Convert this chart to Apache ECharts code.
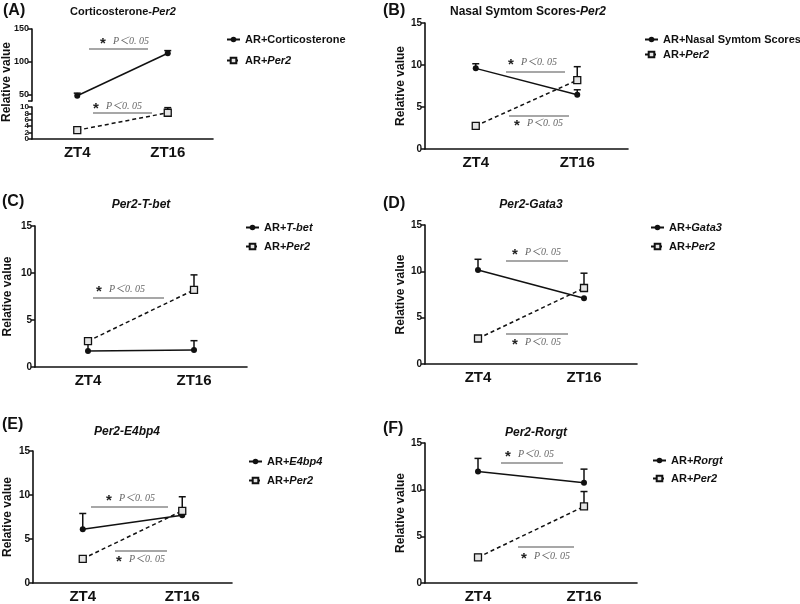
<!DOCTYPE html>
<html>
<head>
<meta charset="utf-8">
<script src="https://cdn.jsdelivr.net/npm/echarts@6/dist/echarts.min.js"></script>
<style>html,body{margin:0;background:#fff}#chart{width:800px;height:604px}</style>
</head>
<body>
<div id="chart"></div>
<script>
// ---- data ----
var times = ['ZT4', 'ZT16'];

var per2 = [2.75, 8.2];
var per2Err = [3.05, 9.8];

var corti = [48, 113];
var cortiErr = [52, 117];

var nasal = [9.6, 6.45];
var nasalErr = [10.15, 7.05];

var tbet = [1.7, 1.8];
var tbetErr = [2.7, 2.8];

var gata3 = [10.15, 7.1];
var gata3Err = [11.3, null];

var e4bp4 = [6.1, 7.7];
var e4bp4Err = [7.9, null];

var rorgt = [11.95, 10.75];
var rorgtErr = [13.35, 12.2];

var yTicksA = [50, 100, 150];
var yTicksALow = [0, 2, 4, 6, 8, 10];

var F = 'Liberation Sans, Arial, sans-serif';
var INK = '#111';

var grids = [], xAxes = [], yAxes = [], series = [], legends = [], graphics = [];

function addGrid(box, yCfg, showX) {
  var i = grids.length;
  grids.push({ left: box[0], top: box[1], width: box[2], height: box[3], containLabel: false, outerBoundsMode: 'none' });
  xAxes.push({
    type: 'category', gridIndex: i, data: times, show: showX !== false, boundaryGap: true,
    axisLine: { lineStyle: { color: INK, width: 1.6 } },
    axisTick: { alignWithLabel: true, length: 4, lineStyle: { color: INK, width: 1.5 } },
    axisLabel: { color: INK, fontSize: 15, fontWeight: 'bold', fontFamily: F, margin: 6 }
  });
  yAxes.push(Object.assign({
    type: 'value', gridIndex: i,
    axisLine: { show: true, lineStyle: { color: INK, width: 1.6 } },
    axisTick: { show: true, length: 4, lineStyle: { color: INK, width: 1.5 } },
    axisLabel: { color: INK, fontSize: 10, fontWeight: 'bold', fontFamily: F, margin: 3 },
    splitLine: { show: false },
    nameLocation: 'middle',
    nameTextStyle: { color: INK, fontSize: 12, fontWeight: 'bold', fontFamily: F }
  }, yCfg));
  return i;
}

function errSeries(gi, vals, tops) {
  return {
    type: 'custom', xAxisIndex: gi, yAxisIndex: gi, z: 1, silent: true,
    data: vals.map(function (v, i) { return [i, v, tops[i] == null ? '-' : tops[i]]; }),
    renderItem: function (params, api) {
      if (isNaN(api.value(2))) return null;
      var p0 = api.coord([api.value(0), api.value(1)]);
      var p1 = api.coord([api.value(0), api.value(2)]);
      var w = 3.5;
      var st = { stroke: INK, lineWidth: 1.5 };
      return { type: 'group', children: [
        { type: 'line', shape: { x1: p0[0], y1: p0[1], x2: p1[0], y2: p1[1] }, style: st },
        { type: 'line', shape: { x1: p1[0] - w, y1: p1[1], x2: p1[0] + w, y2: p1[1] }, style: st }
      ] };
    }
  };
}

function lineSeries(gi, name, vals, dashed) {
  return {
    type: 'line', name: name, xAxisIndex: gi, yAxisIndex: gi, z: 3, data: vals,
    symbol: dashed ? 'rect' : 'circle', symbolSize: dashed ? 7 : 6, showSymbol: true,
    lineStyle: { color: INK, width: 1.5, type: dashed ? [4, 3] : 'solid' },
    itemStyle: dashed ? { color: '#e4e4e4', borderColor: INK, borderWidth: 1.3 } : { color: INK }
  };
}

var legendNames = {
  'AR+Per2': 'AR+{i|Per2}',
  'AR+T-bet': 'AR+{i|T-bet}',
  'AR+Gata3': 'AR+{i|Gata3}',
  'AR+E4bp4': 'AR+{i|E4bp4}',
  'AR+Rorgt': 'AR+{i|Rorgt}'
};

function addLegend(names, left, top, gap) {
  legends.push({
    data: names, orient: 'vertical', left: left, top: top, itemGap: gap,
    itemWidth: 13, itemHeight: 7, padding: 0, selectedMode: false,
    formatter: function (n) { return legendNames[n] || n; },
    textStyle: {
      color: INK, fontSize: 11, fontWeight: 'bold', fontFamily: F,
      rich: { i: { color: INK, fontSize: 11, fontWeight: 'bold', fontStyle: 'italic', fontFamily: F } }
    }
  });
}

function txt(x, y, text, size, extra) {
  return { type: 'text', x: x, y: y, silent: true, style: Object.assign({
    text: text, fill: INK, fontSize: size, fontWeight: 'bold', fontFamily: F,
    align: 'center', verticalAlign: 'middle', textAlign: 'center', textVerticalAlign: 'middle',
    rich: { i: { fill: INK, fontSize: size, fontWeight: 'bold', fontStyle: 'italic', fontFamily: F } }
  }, extra || {}) };
}

function sig(x1, x2, ly, ty, sx) {
  graphics.push({ type: 'line', silent: true, shape: { x1: x1, y1: ly, x2: x2, y2: ly }, style: { stroke: '#8a8a8a', lineWidth: 1.5 } });
  graphics.push(txt(sx, ty + 3, '*', 15, { fill: '#222', align: 'center', textAlign: 'center' }));
  graphics.push(txt(sx + 10, ty, 'P＜0. 05', 10, {
    fill: '#666', fontWeight: 'normal', fontStyle: 'italic',
    fontFamily: 'Liberation Serif, Noto Sans CJK SC, serif', align: 'left', textAlign: 'left'
  }));
}

// ---- Panel A: split y axis ----
var gA1 = addGrid([32, 29, 181, 72], {
  min: 40, max: 150,
  axisLabel: { color: INK, fontSize: 9, fontWeight: 'bold', fontFamily: F, margin: 3, customValues: yTicksA },
  axisTick: { show: true, length: 4, lineStyle: { color: INK, width: 1.5 }, customValues: [40].concat(yTicksA) }
}, false);
var lowLabel = { color: INK, fontSize: 8, fontWeight: 'bold', fontFamily: F, margin: 3, showMinLabel: true, showMaxLabel: true };
var gA2 = addGrid([32, 107, 181, 32], {
  min: 0, max: 10,
  axisLabel: Object.assign({ customValues: yTicksALow.filter(function (v, i) { return i % 2 === 0; }) }, lowLabel),
  axisTick: { show: true, length: 4, lineStyle: { color: INK, width: 1.5 }, customValues: yTicksALow }
});
series.push(errSeries(gA1, corti, cortiErr), lineSeries(gA1, 'AR+Corticosterone', corti, false));
series.push(errSeries(gA2, per2, per2Err), lineSeries(gA2, 'AR+Per2', per2, true));
addLegend(['AR+Corticosterone', 'AR+Per2'], 226, 34, 10);

// ---- Panels B-F ----
function addPanel(box, name, vals, errs, nameGap) {
  var g = addGrid(box, { min: 0, max: 15, interval: 5, name: 'Relative value', nameGap: nameGap });
  series.push(errSeries(g, vals, errs), errSeries(g, per2, per2Err));
  series.push(lineSeries(g, name, vals, false), lineSeries(g, 'AR+Per2', per2, true));
}
addPanel([425, 23, 203, 126], 'AR+Nasal Symtom Scores', nasal, nasalErr, 18);
addPanel([35, 226, 212, 141], 'AR+T-bet', tbet, tbetErr, 21);
addPanel([425, 225, 212, 139], 'AR+Gata3', gata3, gata3Err, 18);
addPanel([33, 451, 199, 132], 'AR+E4bp4', e4bp4, e4bp4Err, 19);
addPanel([425, 443, 212, 140], 'AR+Rorgt', rorgt, rorgtErr, 18);

// second label-only axis on the lower A segment (labels 2, 6, 10 would be dropped as overlapping otherwise)
yAxes.push({
  type: 'value', gridIndex: gA2, min: 0, max: 10, position: 'left',
  axisLine: { show: false }, axisTick: { show: false }, splitLine: { show: false },
  axisLabel: Object.assign({ customValues: yTicksALow.filter(function (v, i) { return i % 2 === 1; }) }, lowLabel)
});

addLegend(['AR+Nasal Symtom Scores', 'AR+Per2'], 644, 34, 4);
addLegend(['AR+T-bet', 'AR+Per2'], 245, 222, 8);
addLegend(['AR+Gata3', 'AR+Per2'], 650, 222, 8);
addLegend(['AR+E4bp4', 'AR+Per2'], 248, 456, 8);
addLegend(['AR+Rorgt', 'AR+Per2'], 652, 455, 7);

// ---- panel letters, titles, y name for A ----
graphics.push(txt(3, 11, '(A)', 16, { align: 'left', textAlign: 'left' }));
graphics.push(txt(383, 11, '(B)', 16, { align: 'left', textAlign: 'left' }));
graphics.push(txt(2, 202, '(C)', 16, { align: 'left', textAlign: 'left' }));
graphics.push(txt(383, 204, '(D)', 16, { align: 'left', textAlign: 'left' }));
graphics.push(txt(2, 425, '(E)', 16, { align: 'left', textAlign: 'left' }));
graphics.push(txt(383, 429, '(F)', 16, { align: 'left', textAlign: 'left' }));

graphics.push(txt(123, 12, 'Corticosterone-{i|Per2}', 11, { rich: { i: { fill: INK, fontSize: 11, fontWeight: 'bold', fontStyle: 'italic', fontFamily: F } } }));
graphics.push(txt(528, 12, 'Nasal Symtom Scores-{i|Per2}', 12));
graphics.push(txt(141, 205, '{i|Per2-T-bet}', 12));
graphics.push(txt(531, 205, '{i|Per2-Gata3}', 12));
graphics.push(txt(127, 432, '{i|Per2-E4bp4}', 12));
graphics.push(txt(536, 433, '{i|Per2-Rorgt}', 12));

var yNameA = txt(0, 0, 'Relative value', 12);
yNameA.x = 7; yNameA.y = 82; yNameA.rotation = Math.PI / 2;
graphics.push(yNameA);

// ---- significance marks ----
sig(89, 148, 49, 41, 103);
sig(93, 152, 113, 106, 96);
sig(506, 565, 72, 62, 511);
sig(509, 569, 116, 123, 517);
sig(93, 164, 298, 289, 99);
sig(506, 568, 261, 252, 515);
sig(506, 568, 334, 342, 515);
sig(91, 168, 507, 498, 109);
sig(115, 167, 551, 559, 119);
sig(501, 563, 463, 454, 508);
sig(518, 574, 547, 556, 524);

var chart = echarts.init(document.getElementById('chart'), null, { renderer: 'canvas' });
chart.setOption({
  animation: false,
  backgroundColor: '#fff',
  grid: grids,
  xAxis: xAxes,
  yAxis: yAxes,
  legend: legends,
  series: series,
  graphic: graphics
});
window.addEventListener('resize', function () { chart.resize(); });
</script>
</body>
</html>
